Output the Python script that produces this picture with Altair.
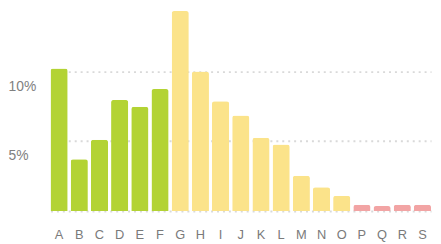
import altair as alt
import pandas as pd

categories = list("ABCDEFGHIJKLMNOPQRS")
values = [0.102, 0.037, 0.051, 0.0795, 0.0747, 0.0873, 0.1432, 0.0999, 0.0786,
          0.0684, 0.0524, 0.0476, 0.0252, 0.017, 0.0108, 0.0045, 0.0035, 0.0045, 0.0045]
groups = ["g1"] * 6 + ["g2"] * 9 + ["g3"] * 4
group_names = ["g1", "g2", "g3"]
group_colors = ["#b3d334", "#fbe38a", "#f2a4a4"]
y_ticks = [0, 0.05, 0.10]

df = pd.DataFrame({"cat": categories, "val": values, "grp": groups})

font = "Liberation Sans"

chart = alt.Chart(df).mark_bar(
    cornerRadiusTopLeft=2.5, cornerRadiusTopRight=2.5
).encode(
    x=alt.X("cat:N", sort=categories,
            scale=alt.Scale(range=[43, 428], paddingInner=0.15, paddingOuter=0),
            axis=alt.Axis(title=None, domain=False, ticks=False, labelAngle=0,
                          labelPadding=18, labelFontSize=13, labelColor="#7a7a7a",
                          labelFont=font, grid=False)),
    y=alt.Y("val:Q", scale=alt.Scale(domain=[0, 0.1444], nice=False, zero=True),
            axis=alt.Axis(title=None, values=y_ticks, format=".0%", domain=False,
                          ticks=False, tickSize=0, labelPadding=0, labelAlign="left",
                          labelBaseline="middle", labelOffset=15, labelFontSize=14,
                          labelColor="#808080", labelFont=font,
                          labelExpr="datum.value == 0 ? '' : datum.label",
                          grid=True, gridColor="#d9d9d9", gridWidth=2,
                          gridDash=[2, 4])),
    color=alt.Color("grp:N", scale=alt.Scale(domain=group_names, range=group_colors),
                    legend=None),
).properties(
    width=430, height=204, padding=0
).configure_view(stroke=None)

chart.save("out.html", embed_options={"renderer": "svg", "actions": False})
